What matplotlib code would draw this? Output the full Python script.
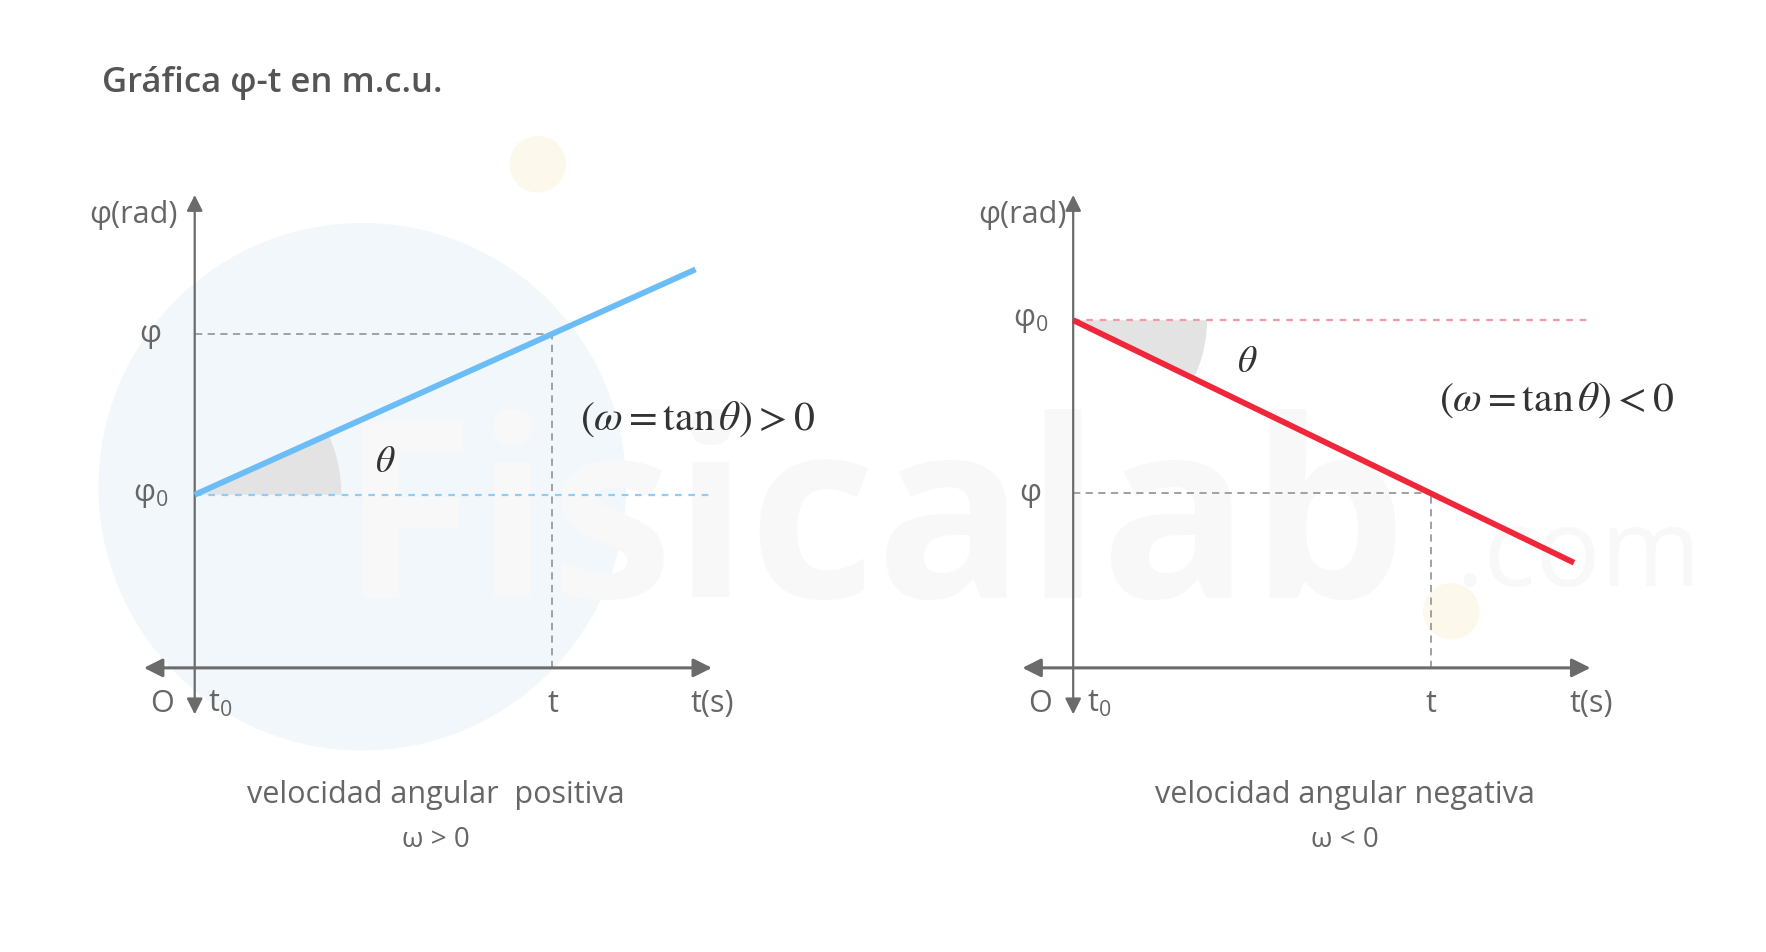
import numpy as np
import matplotlib
matplotlib.use('Agg')
import matplotlib.pyplot as plt
from matplotlib.patches import Wedge, Circle

# data (schematic units: t0 = 0, x axis at phi = 0)
t_line = [0.0, 7.0]
phi_pos = [2.42, 5.57]   # omega > 0
phi_neg = [4.86, 1.47]   # omega < 0
t_mark = 5.0
t_end_axis = 7.23
phi_top_axis = 6.61

left_labels = ['velocidad angular  positiva', 'ω > 0']
right_labels = ['velocidad angular negativa', 'ω < 0']
left_formula = r'$\left(\omega = \tan\theta\right) > 0$'
right_formula = r'$\left(\omega = \tan\theta\right) < 0$'

plt.rcParams['font.family'] = ['Open Sans', 'DejaVu Sans']
plt.rcParams['mathtext.fontset'] = 'custom'
plt.rcParams['mathtext.rm'] = 'Open Sans'
plt.rcParams['mathtext.it'] = 'Open Sans:italic'

AX = '#6b6b6b'
TXT = '#666666'
W, H = 1560.0, 841.0
U = 63.2  # px per unit (display px)

fig = plt.figure(figsize=(17.66, 9.52), dpi=100)
fig.patch.set_facecolor('white')

# faint watermark on a background axes (pixel coords of the display)
bg = fig.add_axes([0, 0, 1, 1], zorder=-5)
bg.set_xlim(0, W)
bg.set_ylim(H, 0)
bg.axis('off')
bg.add_patch(Circle((320, 430), 233, facecolor='#f2f7fb', edgecolor='none'))
bg.add_patch(Circle((475, 145), 25, facecolor='#fdf8ec', edgecolor='none'))
bg.add_patch(Circle((1282, 540), 25, facecolor='#fdf8ec', edgecolor='none'))
bg.text(300, 528, 'Fisicalab', fontsize=178, fontweight='bold',
        color='#f8f8f8', ha='left', va='baseline')
bg.text(1285, 518, '.com', fontsize=78, color='#f8f8f8',
        ha='left', va='baseline')

fig.text(90 / W, 1 - 73 / H, 'Gráfica φ-t en m.c.u.', fontsize=25,
         fontweight='semibold', color='#555555', ha='left', va='center')


def panel(x0px, phi, color, dot_color, labels, formula, th_off, f_pos,
          phi_lbl_x, rad_x, cap_x):
    ax = fig.add_axes([(x0px - 1.5 * U) / W, (H - (590 + 1.5 * U)) / H,
                       10 * U / W, 9 * U / H])
    ax.set_xlim(-1.5, 8.5)
    ax.set_ylim(-1.5, 7.5)
    ax.axis('off')

    slope = (phi[1] - phi[0]) / (t_line[1] - t_line[0])
    phi_m = phi[0] + slope * t_mark

    # angle wedge
    ang = np.degrees(np.arctan(slope))
    r = 2.05 if slope > 0 else 1.87
    ax.add_patch(Wedge((t_line[0], phi[0]), r, min(0, ang), max(0, ang),
                       facecolor='#e3e3e3', edgecolor='none', zorder=1))

    # axes with arrows
    ax.annotate('', xy=(t_end_axis, 0), xytext=(-0.71, 0),
                arrowprops=dict(arrowstyle='<|-|>', color=AX, lw=2.2,
                                mutation_scale=28, shrinkA=0, shrinkB=0),
                zorder=3)
    ax.annotate('', xy=(0, phi_top_axis), xytext=(0, -0.65),
                arrowprops=dict(arrowstyle='<|-|>', color=AX, lw=1.6,
                                mutation_scale=24, shrinkA=0, shrinkB=0),
                zorder=3)

    # guide lines
    ax.plot([0, t_mark], [phi_m, phi_m], color='#9a9a9a', lw=1.3,
            dashes=(4, 3), zorder=2)
    ax.plot([t_mark, t_mark], [0, phi_m], color='#9a9a9a', lw=1.3,
            dashes=(4, 3), zorder=2)
    ax.plot([0, 7.2], [phi[0], phi[0]], color=dot_color, lw=1.6,
            dashes=(3, 3), zorder=2)

    ax.plot(t_line, phi, color=color, lw=4.2, solid_capstyle='butt', zorder=4)

    fs = 22
    ax.text(rad_x, 6.33, 'φ(rad)', fontsize=fs, color=TXT, ha='center', va='center')
    ax.text(phi_lbl_x, phi[0], 'φ$_0$', fontsize=fs, color=TXT, ha='center', va='center')
    ax.text(phi_lbl_x, phi_m, 'φ', fontsize=fs, color=TXT, ha='center', va='center')
    ax.text(-0.46, -0.51, 'O', fontsize=fs, color=TXT, ha='center', va='center')
    ax.text(0.36, -0.51, 't$_0$', fontsize=fs, color=TXT, ha='center', va='center')
    ax.text(t_mark, -0.51, 't', fontsize=fs, color=TXT, ha='center', va='center')
    ax.text(7.24, -0.51, 't(s)', fontsize=fs, color=TXT, ha='center', va='center')

    ax.text(th_off[0], phi[0] + th_off[1], r'$\theta$', fontsize=27,
            color='#333333', ha='center', va='center', math_fontfamily='stix')
    ax.text(f_pos[0], f_pos[1], formula, fontsize=30, color='#333333',
            ha='center', va='center', math_fontfamily='stix')

    ax.text(cap_x, -1.77, labels[0], fontsize=22, color=TXT, ha='center', va='center')
    ax.text(cap_x, -2.41, labels[1], fontsize=20, color=TXT, ha='center', va='center')
    return ax


panel(172, phi_pos, '#6bbdf5', '#8fcdf6', left_labels, left_formula,
      (2.66, 0.46), (7.03, 3.48), -0.62, -0.85, 3.37)
panel(948, phi_neg, '#f0263b', '#f59aa3', right_labels, right_formula,
      (2.44, -0.59), (6.76, 3.75), -0.60, -0.71, 3.80)

fig.savefig('out.png', dpi=100)
